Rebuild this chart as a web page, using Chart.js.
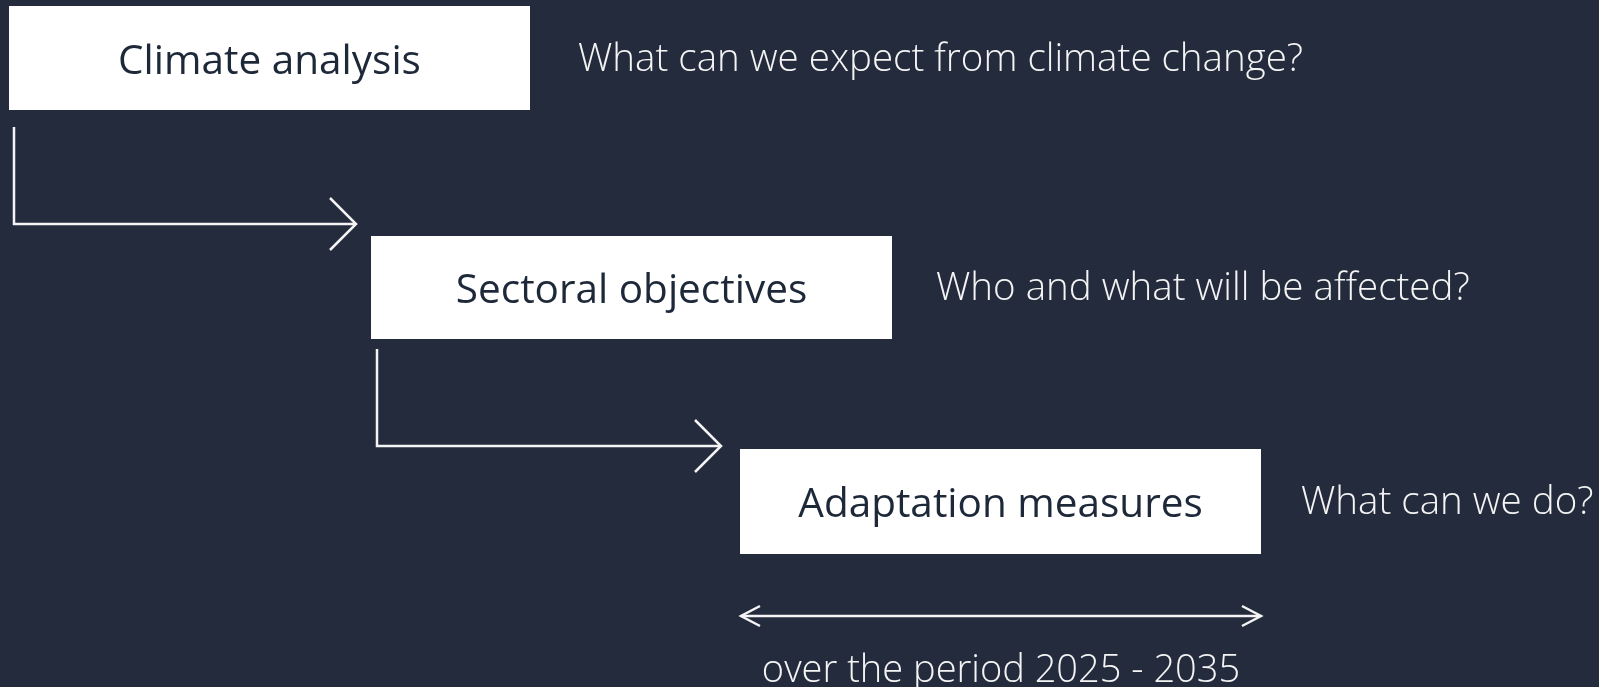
<!DOCTYPE html>
<html>
<head>
<meta charset="utf-8">
<script src="https://cdn.jsdelivr.net/npm/chart.js"></script>
<style>
  html, body { margin: 0; padding: 0; background: #232b3d; }
  #wrap { width: 1599px; height: 687px; }
</style>
</head>
<body>
<div id="wrap"><canvas id="flow"></canvas></div>
<script>
// steps of the process, one box each
var stepLabels = ["Climate analysis", "Sectoral objectives", "Adaptation measures"];
var stepLeft   = [9, 371, 740];
var stepRight  = [530, 892, 1261];
var stepTop    = [6, 236, 449];
var stepBottom = [110, 339, 554];

// question asked at each step
var questions = ["What can we expect from climate change?", "Who and what will be affected?", "What can we do?"];
var questionX = [578, 936, 1301];

// elbow arrows between steps
var elbowX    = [14, 377];
var elbowTopY = [127, 349];
var elbowY    = [224, 446];
var elbowEndX = [356, 721];

// period arrow under the last step
var periodFrom = 741;
var periodTo   = 1261;
var periodY    = 616;
var periodText = "over the period 2025 - 2035";
var periodTextY = 668;

var bg = "#232b3d";
var ink = "#f4f4f4";

var datasets = [];

// boxes: bottom edge filled up to top edge
for(var i=0;i<stepLabels.length;i++){
    datasets.push({
        label: stepLabels[i],
        data: [{x: stepLeft[i], y: stepBottom[i]}, {x: stepRight[i], y: stepBottom[i]}],
        borderWidth: 0,
        borderColor: "rgba(0,0,0,0)",
        backgroundColor: "#ffffff",
        fill: {target: {value: stepTop[i]}},
        pointRadius: 0
    });
}

function lineSet(points){
    return {
        data: points,
        borderColor: ink,
        borderWidth: 2.5,
        borderJoinStyle: "miter",
        borderCapStyle: "butt",
        fill: false,
        pointRadius: 0,
        tension: 0
    };
}

for(var j=0;j<elbowX.length;j++){
    datasets.push(lineSet([
        {x: elbowX[j], y: elbowTopY[j]},
        {x: elbowX[j], y: elbowY[j]},
        {x: elbowEndX[j], y: elbowY[j]}
    ]));
    datasets.push(lineSet([
        {x: elbowEndX[j]-26, y: elbowY[j]-26},
        {x: elbowEndX[j], y: elbowY[j]},
        {x: elbowEndX[j]-26, y: elbowY[j]+26}
    ]));
}

datasets.push(lineSet([{x: periodFrom, y: periodY}, {x: periodTo, y: periodY}]));
datasets.push(lineSet([{x: periodFrom+19, y: periodY-10}, {x: periodFrom, y: periodY}, {x: periodFrom+19, y: periodY+10}]));
datasets.push(lineSet([{x: periodTo-19, y: periodY-10}, {x: periodTo, y: periodY}, {x: periodTo-19, y: periodY+10}]));

var background = {
    id: "background",
    beforeDraw: function(chart){
        var c = chart.ctx;
        c.save();
        c.fillStyle = bg;
        c.fillRect(0, 0, chart.width, chart.height);
        c.restore();
    }
};

var texts = {
    id: "texts",
    afterDatasetsDraw: function(chart){
        var c = chart.ctx, sx = chart.scales.x, sy = chart.scales.y;
        c.save();
        c.textBaseline = "middle";
        for(var i=0;i<stepLabels.length;i++){
            var cy = sy.getPixelForValue((stepTop[i]+stepBottom[i])/2);
            c.fillStyle = "#1d2839";
            c.font = "40.5px 'Open Sans'";
            c.textAlign = "center";
            c.fillText(stepLabels[i], sx.getPixelForValue((stepLeft[i]+stepRight[i])/2), cy+4);
            c.fillStyle = ink;
            c.font = "300 38.5px 'Open Sans'";
            c.textAlign = "left";
            c.fillText(questions[i], sx.getPixelForValue(questionX[i]), cy+2);
        }
        c.textAlign = "center";
        c.font = "300 38px 'Open Sans'";
        c.fillText(periodText, sx.getPixelForValue((periodFrom+periodTo)/2), sy.getPixelForValue(periodTextY)+3);
        c.restore();
    }
};

new Chart(document.getElementById("flow"), {
    type: "line",
    data: {datasets: datasets},
    options: {
        responsive: true,
        maintainAspectRatio: false,
        animation: false,
        layout: {padding: 0},
        plugins: {legend: {display: false}, tooltip: {enabled: false}},
        elements: {line: {tension: 0}},
        scales: {
            x: {type: "linear", min: 0, max: 1599, display: false},
            y: {type: "linear", min: 0, max: 687, reverse: true, display: false}
        }
    },
    plugins: [background, texts]
});
</script>
</body>
</html>
